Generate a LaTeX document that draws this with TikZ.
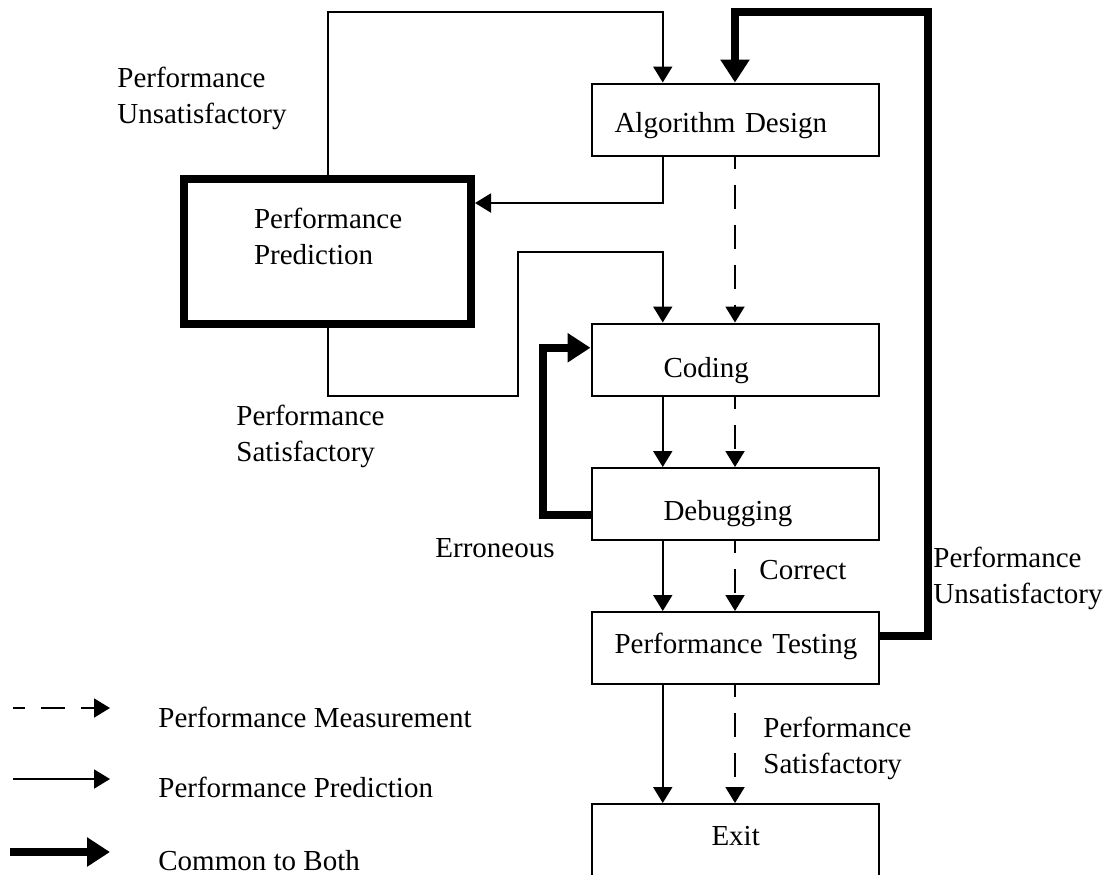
\documentclass[tikz,border=0pt]{standalone}
\usepackage{fontspec}
\setmainfont{Liberation Serif}
\usetikzlibrary{arrows.meta,calc,positioning}

\begin{document}
\begin{tikzpicture}[x=0.5pt,y=-0.5pt,
  font={\fontsize{14.5pt}{18pt}\selectfont},
  box/.style={draw,line width=1pt,anchor=north west,inner sep=0pt,text width=143.5pt,align=left},
  bigbox/.style={box,line width=4pt},
  lbl/.style={anchor=north west,inner sep=0pt,align=left},
  pred/.style={line width=1pt,-{Triangle[length=8pt,width=9.5pt]}},
  meas/.style={pred,dash pattern=on 12pt off 8pt,dash phase=6pt},
  both/.style={line width=4pt,-{Triangle[length=11.5pt,width=14pt]}}]
\path[use as bounding box,clip] (0,0) rectangle (1106,874);
\node[box,text height=24.25pt,text depth=11.75pt] (ad) at (590.5,82.5) {\hspace*{11.5pt}Algorithm Design};
\node[bigbox,text height=24.5pt,text depth=48pt] (pp) at (180,175) {\hspace*{35pt}Performance\\\hspace*{35pt}Prediction};
\node[box,text height=26.75pt,text depth=9.5pt] (coding) at (590.5,322.5) {\hspace*{36pt}Coding};
\node[box,text height=26pt,text depth=10pt] (debug) at (590.5,467) {\hspace*{36pt}Debugging};
\node[box,text height=20.5pt,text depth=15.5pt] (pt) at (590.5,611) {\hspace*{11.5pt}Performance Testing};
\node[box,text height=20.5pt,text depth=60pt] (exit) at (590.5,803) {\hspace*{60pt}Exit};
\node[lbl] (unsat1) at (117,67) {Performance\\Unsatisfactory};
\node[lbl] (sat1) at (236,405) {Performance\\Satisfactory};
\node[lbl] (err) at (435,538) {Erroneous};
\node[lbl] (corr) at (759,560) {Correct};
\node[lbl] (unsat2) at (933,547) {Performance\\Unsatisfactory};
\node[lbl] (sat2) at (763,717) {Performance\\Satisfactory};
\draw[pred] (pp.north) -- (pp.north |- 0,12) -| ($(ad.north west)!.25!(ad.north east)$);
\draw[pred] ($(ad.south west)!.25!(ad.south east)$) |- ([yshift=-14pt]pp.north east);
\draw[meas] (ad.south) -- (coding.north);
\draw[pred] (pp.south) -- ++(0,68) -| ++(190,-144) -| ($(coding.north west)!.25!(coding.north east)$);
\draw[both] ([yshift=-5.5pt]debug.west) -- ++(-48,0) |- ([yshift=6pt]coding.west);
\draw[pred] ($(coding.south west)!.25!(coding.south east)$) -- ($(debug.north west)!.25!(debug.north east)$);
\draw[meas] (coding.south) -- (debug.north);
\draw[pred] ($(debug.south west)!.25!(debug.south east)$) -- ($(pt.north west)!.25!(pt.north east)$);
\draw[meas] (debug.south) -- (pt.north);
\draw[pred] ($(pt.south west)!.25!(pt.south east)$) -- ($(exit.north west)!.25!(exit.north east)$);
\draw[meas] (pt.south) -- (exit.north);
\draw[both] ([yshift=6pt]pt.east) -- ++(48,0) -- ++(0,-624) -| (ad.north);
\coordinate (m0) at (13,708);
\coordinate (m1) at (110,708);
\coordinate (p0) at (13,779);
\coordinate (p1) at (110,779);
\coordinate (b0) at (10,852);
\coordinate (b1) at (110,852);
\draw[meas] (m0) -- (m1);
\draw[pred] (p0) -- (p1);
\draw[both] (b0) -- (b1);
\node[lbl] (legm) at (158,707) {Performance Measurement};
\node[lbl] (legp) at (158,777) {Performance Prediction};
\node[lbl] (legb) at (158,850) {Common to Both};
\end{tikzpicture}
\end{document}
